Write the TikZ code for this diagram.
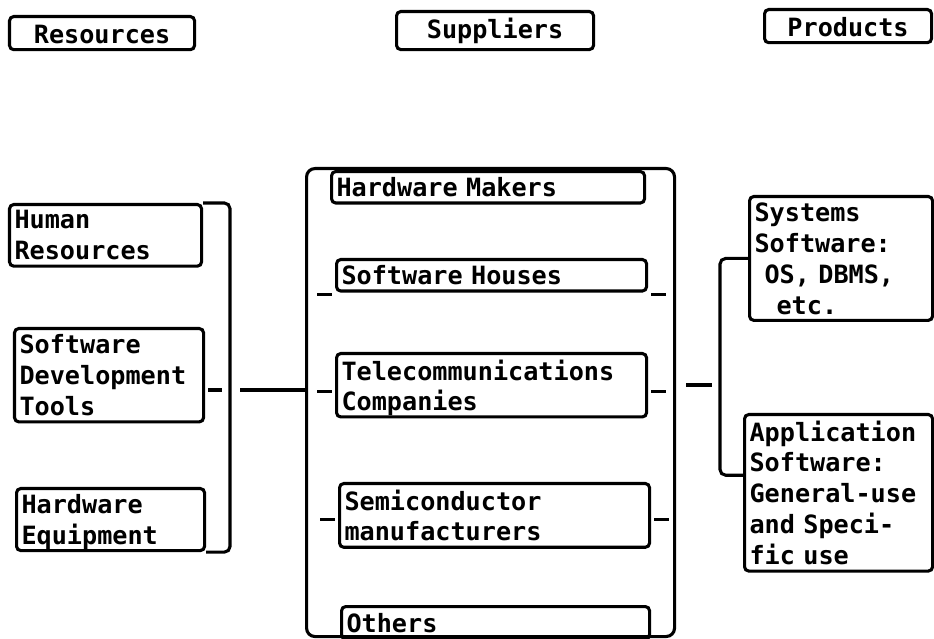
\documentclass[tikz,border=0pt]{standalone}
\usepackage{fontspec}
\setmonofont[WordSpace={1,0,0}]{DejaVu Sans Mono}
\usetikzlibrary{positioning}

\begin{document}
\begin{tikzpicture}[
    box/.style={
        draw,
        rounded corners=3pt,
        line width=2.2pt,
        anchor=north west,
        align=left,
        inner xsep=0.125cm,
        inner ysep=0.15cm,
        font=\ttfamily\bfseries\fontsize{17.9pt}{22pt}\selectfont
    },
    header/.style={
        box,
        align=center,
        text height=0.52cm
    },
    group/.style={
        draw,
        rounded corners=6pt,
        line width=2.2pt,
        anchor=north west,
        inner sep=0pt
    },
    link/.style={
        line width=2.2pt
    }
]

\useasboundingbox (0, 0) rectangle (23.35, -15.975);

% ========== HEADERS ==========

\node[header, text width=4.375cm] (reshead) at (0.2, -0.375) {Resources};
\node[header, text width=4.675cm] (suphead) at (9.875, -0.25) {Suppliers};
\node[header, text width=3.925cm] (prodhead) at (19.075, -0.2) {Products};

% ========== RESOURCES ==========

\node[box, text width=4.55cm] (human) at (0.2, -5.075) {Human\\Resources};
\node[box, text width=4.475cm] (devtools) at (0.325, -8.175) {Software\\Development\\Tools};
\node[box, text width=4.45cm] (hwequip) at (0.375, -12.175) {Hardware\\\smash{Equipment}};

% ========== SUPPLIERS ==========

\node[group, minimum width=9.2cm, minimum height=11.7cm] (supbox) at (7.625, -4.175) {};

\node[box, text width=7.575cm] (hwmakers) at (8.25, -4.25) {Hardware Makers};
\node[box, text width=7.5cm] (swhouses) at (8.375, -6.45) {Software Houses};
\node[box, text width=7.5cm] (telecom) at (8.375, -8.8) {Telecommunications\\\smash{Companies}};
\node[box, text width=7.5cm] (semicon) at (8.45, -12.05) {Semiconductor\\manufacturers};
\node[box, text width=7.45cm, text height=0.5cm] (others) at (8.5, -15.125) {Others};

% ========== PRODUCTS ==========

\node[box, text width=4.325cm] (syssw) at (18.7, -4.875) {Systems\\Software:\\\hspace*{0.25cm}OS, DBMS,\\\hspace*{0.55cm}etc.};
\node[box, text width=4.45cm] (appsw) at (18.575, -10.325) {Application\\Software:\\General-use\\and Speci-\\fic use};

% ========== CONNECTIONS - RESOURCES ==========

\coordinate (resjoin) at (5.75, -9.75);

\draw[link, rounded corners=4pt] (human.north east) -| (resjoin) |- (hwequip.south east);
\draw[link] ([xshift=-0.55cm]resjoin) -- ([xshift=-0.2cm]resjoin);
\draw[link] ([xshift=0.25cm]resjoin) -- (resjoin -| supbox.west);

% ========== CONNECTIONS - SUPPLIERS ==========

\foreach \nd/\dy in {swhouses/-0.49, telecom/-0.15, semicon/-0.1} {
    \draw[link] ([xshift=-0.08cm, yshift=\dy cm]\nd.west) -- ++(-0.37, 0);
    \draw[link] ([xshift=0.08cm, yshift=\dy cm]\nd.east) -- ++(0.37, 0);
}

% ========== CONNECTIONS - PRODUCTS ==========

\coordinate (prodjoin) at (18.0, -9.625);

\draw[link] ([xshift=0.25cm]supbox.east |- prodjoin) -- ([xshift=-0.2cm]prodjoin);
\draw[link, rounded corners=4pt] (syssw.west) -| (prodjoin) |- ([yshift=0.44cm]appsw.west);

\end{tikzpicture}
\end{document}
